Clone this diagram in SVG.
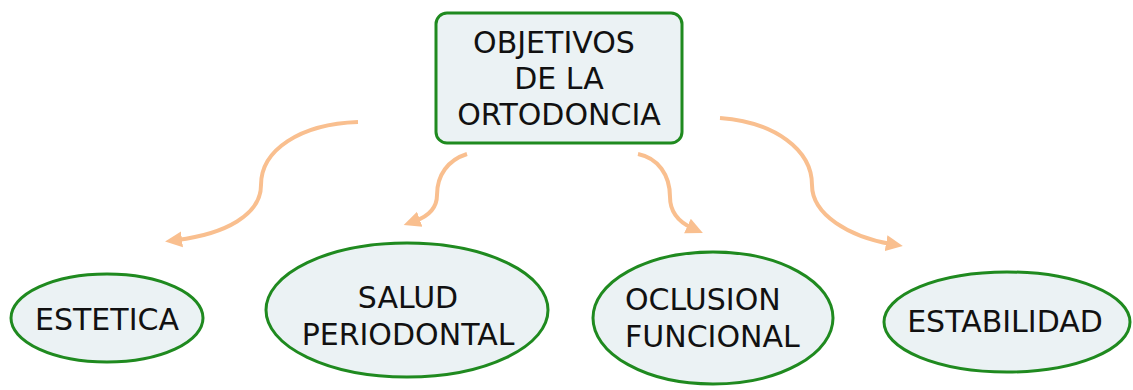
<svg xmlns="http://www.w3.org/2000/svg" width="1133" height="390" viewBox="0 0 1133 390">
<style>
.box{fill:#ebf2f4;stroke:#1f8a1f;stroke-width:3}
.t{font-family:"DejaVu Sans",Verdana,sans-serif;font-size:30px;fill:#111111}
.c{fill:none;stroke:#f9bf8f;stroke-width:4;marker-end:url(#arr)}
</style>
<defs>
<marker id="arr" markerUnits="userSpaceOnUse" markerWidth="18" markerHeight="18" viewBox="0 0 18 18" refX="5" refY="9" orient="auto">
<path d="M0,1 L17,9 L0,17 z" fill="#f9bf8f"/>
</marker>
</defs>
<rect width="1133" height="390" fill="#ffffff"/>
<g id="connectors">
<path class="c" d="M358,122 C300,124 261,150 261,185 C261,215 225,234 177,240"/>
<path class="c" d="M467,154 C448,160 437,175 437,195 C437,208 429,216 415,221"/>
<path class="c" d="M638,154 C658,158 670,175 670,197 C670,212 679,222 692,228"/>
<path class="c" d="M720,118 C775,122 812,150 812,185 C812,215 850,237 891,244"/>
</g>
<g id="objetivos">
<rect class="box" x="436" y="13" width="246" height="130" rx="11"/>
<text class="t" x="554" y="53" text-anchor="middle">OBJETIVOS</text>
<text class="t" x="559" y="89" text-anchor="middle">DE LA</text>
<text class="t" x="559" y="125" text-anchor="middle">ORTODONCIA</text>
</g>
<g id="estetica">
<ellipse class="box" cx="107" cy="318" rx="96" ry="44"/>
<text class="t" x="107" y="330" text-anchor="middle">ESTETICA</text>
</g>
<g id="salud">
<ellipse class="box" cx="407" cy="310" rx="141" ry="67"/>
<text class="t" x="408" y="308" text-anchor="middle">SALUD</text>
<text class="t" x="408" y="345" text-anchor="middle">PERIODONTAL</text>
</g>
<g id="oclusion">
<ellipse class="box" cx="713" cy="318" rx="120" ry="66"/>
<text class="t" x="625" y="310">OCLUSION</text>
<text class="t" x="625" y="347">FUNCIONAL</text>
</g>
<g id="estabilidad">
<ellipse class="box" cx="1007" cy="322" rx="123" ry="50"/>
<text class="t" x="1005" y="332" text-anchor="middle">ESTABILIDAD</text>
</g>
</svg>
